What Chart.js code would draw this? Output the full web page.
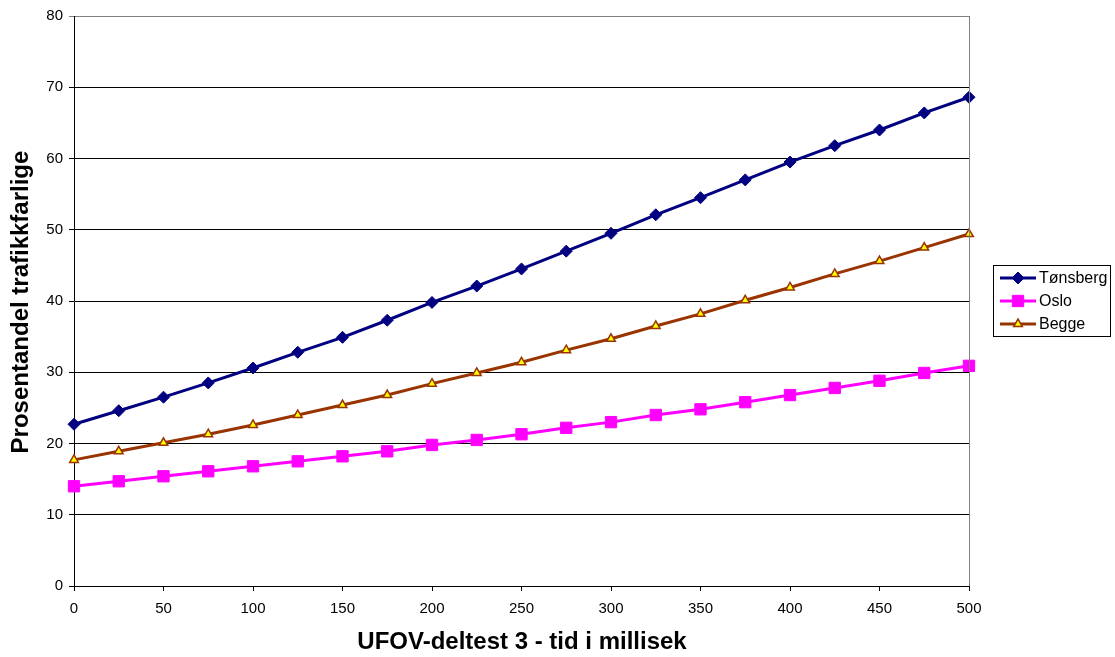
<!DOCTYPE html>
<html>
<head>
<meta charset="utf-8">
<script src="https://cdn.jsdelivr.net/npm/chart.js@4"></script>
<style>
  html, body { margin: 0; padding: 0; background: #fff; }
  #wrap { width: 1115px; height: 657px; position: relative; }
</style>
</head>
<body>
<div id="wrap"><canvas id="c" width="1115" height="657"></canvas></div>
<script>
// UFOV subtest 3 time (ms) on the x axis
const tider = [0, 25, 50, 75, 100, 125, 150, 175, 200, 225, 250, 275, 300, 325, 350, 375, 400, 425, 450, 475, 500];

// Share of drivers judged unsafe in traffic (%)
const tonsberg = [22.7, 24.6, 26.5, 28.5, 30.6, 32.8, 34.9, 37.3, 39.8, 42.1, 44.5, 47.0, 49.5, 52.1, 54.5, 57.0, 59.5, 61.8, 64.0, 66.4, 68.6];
const oslo     = [14.0, 14.7, 15.4, 16.1, 16.8, 17.5, 18.2, 18.9, 19.8, 20.5, 21.3, 22.2, 23.0, 24.0, 24.8, 25.8, 26.8, 27.8, 28.8, 29.9, 30.9];
const begge    = [17.7, 18.9, 20.1, 21.3, 22.6, 24.0, 25.4, 26.8, 28.4, 29.9, 31.4, 33.1, 34.7, 36.5, 38.2, 40.1, 41.9, 43.8, 45.6, 47.5, 49.4];

const seriesNames = ['Tønsberg', 'Oslo', 'Begge'];
const xTitle = 'UFOV-deltest 3 - tid i millisek';
const yTitle = 'Prosentandel trafikkfarlige';

const toPoints = (vals) => vals.map((v, i) => ({ x: tider[i], y: v }));

const FONT = 'Arial, "Liberation Sans", sans-serif';

// Axis titles, plot frame and a boxed legend on the right
const decorations = {
  id: 'decorations',
  afterDraw(chart) {
    const { ctx, chartArea: a } = chart;
    ctx.save();
    // right frame edge
    ctx.strokeStyle = '#808080';
    ctx.lineWidth = 1;
    ctx.beginPath();
    ctx.moveTo(Math.round(a.right) + 0.5, a.top);
    ctx.lineTo(Math.round(a.right) + 0.5, a.bottom);
    ctx.stroke();

    // axis titles
    ctx.fillStyle = '#000';
    ctx.font = 'bold 24px ' + FONT;
    ctx.textAlign = 'center';
    ctx.textBaseline = 'middle';
    ctx.fillText(xTitle, 522, 642);
    ctx.save();
    ctx.translate(21, 302);
    ctx.rotate(-Math.PI / 2);
    ctx.fillText(yTitle, 0, 0);
    ctx.restore();

    // legend
    const lx = 993.5, ly = 265.5, lw = 117, lh = 71;
    ctx.strokeStyle = '#000';
    ctx.lineWidth = 1;
    ctx.strokeRect(lx, ly, lw, lh);
    const rows = [278, 301, 324];
    chart.data.datasets.forEach((ds, i) => {
      const y = rows[i];
      ctx.strokeStyle = ds.borderColor;
      ctx.lineWidth = ds.borderWidth;
      ctx.beginPath();
      ctx.moveTo(1000, y);
      ctx.lineTo(1036, y);
      ctx.stroke();
      ctx.fillStyle = ds.pointBackgroundColor;
      ctx.strokeStyle = ds.pointBorderColor;
      ctx.lineWidth = ds.pointBorderWidth;
      Chart.helpers.drawPoint(ctx, {
        pointStyle: ds.pointStyle,
        radius: ds.pointRadius,
        rotation: 0,
        borderWidth: ds.pointBorderWidth
      }, 1018, y);
      ctx.fillStyle = '#000';
      ctx.font = '16px ' + FONT;
      ctx.textAlign = 'left';
      ctx.textBaseline = 'middle';
      ctx.fillText(ds.label, 1039, y + 1);
    });
    ctx.restore();
  }
};

new Chart(document.getElementById('c'), {
  type: 'line',
  data: {
    datasets: [
      {
        label: seriesNames[0],
        data: toPoints(tonsberg),
        borderColor: '#000080',
        backgroundColor: '#000080',
        borderWidth: 3,
        pointStyle: 'rectRot',
        pointRadius: 6,
        pointBackgroundColor: '#000080',
        pointBorderColor: '#000080',
        pointBorderWidth: 1,
        tension: 0,
        clip: false
      },
      {
        label: seriesNames[1],
        data: toPoints(oslo),
        borderColor: '#FF00FF',
        backgroundColor: '#FF00FF',
        borderWidth: 3,
        pointStyle: 'rect',
        pointRadius: 8,
        pointBackgroundColor: '#FF00FF',
        pointBorderColor: '#FF00FF',
        pointBorderWidth: 1,
        tension: 0,
        clip: false
      },
      {
        label: seriesNames[2],
        data: toPoints(begge),
        borderColor: '#993300',
        backgroundColor: '#FFFF00',
        borderWidth: 3,
        pointStyle: 'triangle',
        pointRadius: 5,
        pointBackgroundColor: '#FFFF00',
        pointBorderColor: '#993300',
        pointBorderWidth: 1.5,
        tension: 0,
        clip: false
      }
    ]
  },
  options: {
    responsive: false,
    animation: false,
    devicePixelRatio: 1,
    layout: { padding: { left: 0, right: 146, top: 16, bottom: 0 } },
    plugins: {
      legend: { display: false },
      tooltip: { enabled: false }
    },
    scales: {
      x: {
        type: 'linear',
        min: 0,
        max: 500,
        afterFit(scale) { scale.height = 71; },
        border: { color: '#000', width: 1 },
        grid: {
          drawOnChartArea: false,
          drawTicks: true,
          tickLength: 5,
          color: '#000'
        },
        ticks: {
          stepSize: 50,
          color: '#000',
          font: { family: FONT, size: 15 },
          padding: 9,
          maxRotation: 0
        }
      },
      y: {
        min: 0,
        max: 80,
        afterFit(scale) { scale.width = 74; },
        border: { color: '#000', width: 1 },
        grid: {
          drawTicks: true,
          tickLength: 5,
          color: (c) => (c.tick && c.tick.value === 80) ? '#808080' : '#000',
          lineWidth: 1
        },
        ticks: {
          stepSize: 10,
          color: '#000',
          font: { family: FONT, size: 15 },
          padding: 6
        }
      }
    }
  },
  plugins: [decorations]
});
</script>
</body>
</html>
